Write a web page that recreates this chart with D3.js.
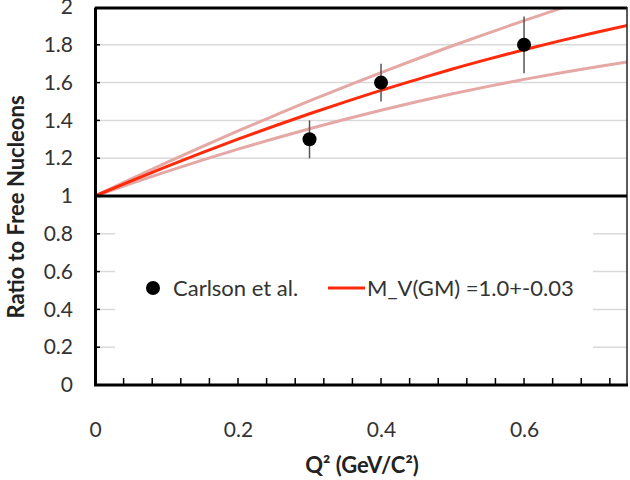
<!DOCTYPE html>
<html><head><meta charset="utf-8">
<script src="https://cdn.jsdelivr.net/npm/d3@7"></script>
<style>body{margin:0;background:#fff}</style>
</head><body>
<svg id="c" width="630" height="480"></svg>
<script>
// Data
const pointsX = [0.3, 0.4, 0.6];
const pointsY = [1.3, 1.6, 1.8];
const pointsErr = [0.1, 0.1, 0.15];
const curveX = [0, 0.05, 0.1, 0.15, 0.2, 0.25, 0.3, 0.35, 0.4, 0.45, 0.5, 0.55, 0.6, 0.65, 0.7, 0.75];
const centerY = [1.0, 1.079, 1.156, 1.230, 1.301, 1.369, 1.435, 1.498, 1.559, 1.616, 1.672, 1.724, 1.774, 1.821, 1.865, 1.907];
const upperY  = [1.0, 1.089, 1.176, 1.261, 1.344, 1.424, 1.503, 1.579, 1.653, 1.725, 1.795, 1.862, 1.928, 1.991, 2.052, 2.111];
const lowerY  = [1.0, 1.066, 1.129, 1.190, 1.248, 1.303, 1.356, 1.406, 1.454, 1.499, 1.541, 1.580, 1.617, 1.651, 1.683, 1.712];
const yTicks = [0, 0.2, 0.4, 0.6, 0.8, 1, 1.2, 1.4, 1.6, 1.8, 2];
const xTicks = [0, 0.2, 0.4, 0.6];
const xMinor = d3.range(0, 0.745, 0.04);
const legendLabels = ["Carlson et al.", "M_V(GM) =1.0+-0.03"];

const svg = d3.select("#c");
const L = 95, R = 627, T = 7, B = 385;
const x = d3.scaleLinear().domain([0, 0.744]).range([L, R]);
const y = d3.scaleLinear().domain([0, 2]).range([B, T]);
const font = "Lato, 'Open Sans', sans-serif";
const txt = "#333";

svg.append("defs").append("clipPath").attr("id","clip")
  .append("rect").attr("x", L).attr("y", T+1).attr("width", R-L).attr("height", B-T);

// gridlines
svg.append("g").selectAll("line").data(yTicks.filter(d => d > 0 && d !== 1 && d < 2)).join("line")
  .attr("x1", L).attr("x2", R).attr("y1", d => y(d)).attr("y2", d => y(d))
  .attr("stroke", "#d9d9d9").attr("stroke-width", 1.5);

// legend background (covers lower gridlines)
svg.append("rect").attr("x", 115).attr("y", 205).attr("width", 478).attr("height", 165).attr("fill", "#fff");

// curves
const line = d3.line().x((d,i) => x(curveX[i])).y(d => y(d)).curve(d3.curveNatural);
const g = svg.append("g").attr("clip-path", "url(#clip)");
[upperY, lowerY].forEach(arr => g.append("path").attr("d", line(arr))
  .attr("fill", "none").attr("stroke", "#e5a8a5").attr("stroke-width", 3));
g.append("path").attr("d", line(centerY)).attr("fill", "none")
  .attr("stroke", "#ff2a0a").attr("stroke-width", 3);

// axes frame
svg.append("line").attr("x1", L).attr("x2", R).attr("y1", T+1).attr("y2", T+1).attr("stroke", "#000").attr("stroke-width", 3);
svg.append("line").attr("x1", R).attr("x2", R).attr("y1", T).attr("y2", B).attr("stroke", "#222").attr("stroke-width", 1.5);
svg.append("line").attr("x1", L).attr("x2", R).attr("y1", y(1)).attr("y2", y(1)).attr("stroke", "#000").attr("stroke-width", 3);

// y axis
const yAxis = d3.axisLeft(y).tickValues(yTicks).tickSize(0).tickPadding(22).tickFormat(d3.format("~g"));
const ya = svg.append("g").attr("transform", `translate(${L},0)`).call(yAxis);
ya.select(".domain").attr("stroke", "#000").attr("stroke-width", 3);
ya.selectAll("text").attr("font-family", font).attr("font-size", 21).attr("fill", txt);
// small inward y ticks
svg.append("g").selectAll("line").data(yTicks.filter(d => d > 0 && d < 2)).join("line")
  .attr("x1", L).attr("x2", L+5).attr("y1", d => y(d)).attr("y2", d => y(d))
  .attr("stroke", "#000").attr("stroke-width", 1.5);

// x axis
const xAxis = d3.axisBottom(x).tickValues(xTicks).tickSize(0).tickPadding(37).tickFormat(d3.format("~g"));
const xa = svg.append("g").attr("transform", `translate(0,${B})`).call(xAxis);
xa.select(".domain").remove();
xa.selectAll("text").attr("font-family", font).attr("font-size", 21).attr("fill", txt);
svg.append("g").selectAll("line").data(xMinor.filter(d => d > 0)).join("line")
  .attr("x1", d => x(d)).attr("x2", d => x(d)).attr("y1", B).attr("y2", B-7)
  .attr("stroke", "#000").attr("stroke-width", 1.5);
svg.append("line").attr("x1", L-1).attr("x2", R+1).attr("y1", B).attr("y2", B).attr("stroke", "#000").attr("stroke-width", 3);

// error bars & points
const pts = pointsX.map((v,i) => ({x: v, y: pointsY[i], e: pointsErr[i]}));
svg.append("g").selectAll("line").data(pts).join("line")
  .attr("x1", d => x(d.x)).attr("x2", d => x(d.x))
  .attr("y1", d => y(d.y - d.e)).attr("y2", d => y(d.y + d.e))
  .attr("stroke", "#555").attr("stroke-width", 1.5);
svg.append("g").selectAll("circle").data(pts).join("circle")
  .attr("cx", d => x(d.x)).attr("cy", d => y(d.y)).attr("r", 7).attr("fill", "#000");

// legend
svg.append("circle").attr("cx", 153).attr("cy", 288).attr("r", 7).attr("fill", "#000");
svg.append("text").attr("x", 173).attr("y", 296).text(legendLabels[0])
  .attr("font-family", font).attr("font-size", 22).attr("fill", txt);
svg.append("line").attr("x1", 328).attr("x2", 365).attr("y1", 288).attr("y2", 288)
  .attr("stroke", "#ff2a0a").attr("stroke-width", 3);
svg.append("text").attr("x", 367).attr("y", 296).text(legendLabels[1])
  .attr("font-family", font).attr("font-size", 22).attr("fill", txt);

// titles
svg.append("text").attr("x", 362).attr("y", 473).attr("text-anchor", "middle")
  .attr("font-family", font).attr("font-size", 22).attr("font-weight", "bold").attr("fill", "#222")
  .text("Q² (GeV/C²)");
svg.append("text").attr("transform", "translate(24,207) rotate(-90)").attr("text-anchor", "middle")
  .attr("font-family", font).attr("font-size", 22).attr("font-weight", "bold").attr("fill", "#222")
  .text("Ratio to Free Nucleons");
</script>
</body></html>
